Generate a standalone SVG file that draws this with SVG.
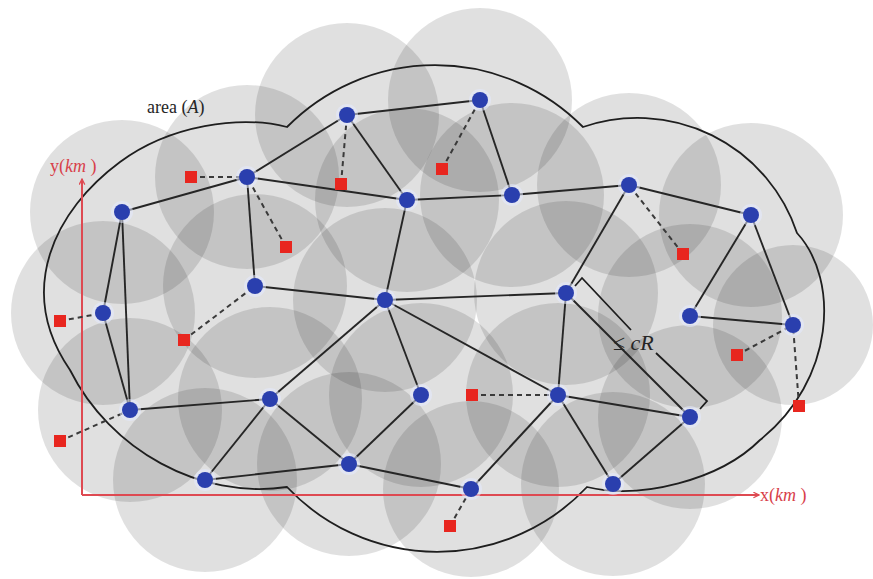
<svg xmlns="http://www.w3.org/2000/svg" width="873" height="579" viewBox="0 0 873 579">
  <defs>
    <style>
      .disk { fill: #000; fill-opacity: 0.12; }
      .outline { fill: none; stroke: #1e1e1e; stroke-width: 1.8; }
      .axis { fill: none; stroke: #de4a52; stroke-width: 2; }
      .edge { stroke: #262626; stroke-width: 1.9; fill: none; }
      .link { stroke: #3a3a3a; stroke-width: 2; stroke-dasharray: 5 4; fill: none; }
      .halo { fill: #e4eaff; fill-opacity: 0.55; }
      .node { fill: #2a3fae; }
      .target { fill: #e8261f; }
      .axlabel { font-family: "Liberation Serif", "DejaVu Serif", serif; font-size: 18px; fill: #d8404a; }
      .label { font-family: "Liberation Serif", "DejaVu Serif", serif; fill: #262626; }
      .bracket { fill: none; stroke: #1e1e1e; stroke-width: 1.8; }
    </style>
    <marker id="arrow" viewBox="0 0 10 10" refX="9" refY="5" markerWidth="7" markerHeight="7" orient="auto" markerUnits="userSpaceOnUse">
      <path d="M1,1 L9,5 L1,9" fill="none" stroke="#de4a52" stroke-width="1.8"/>
    </marker>
  </defs>

  <rect width="873" height="579" fill="#ffffff"/>

  <!-- coverage disks around each sensor -->
  <g id="coverage">
    <circle class="disk" cx="122" cy="212" r="92"/>
    <circle class="disk" cx="247" cy="177" r="92"/>
    <circle class="disk" cx="347" cy="115" r="92"/>
    <circle class="disk" cx="480" cy="100" r="92"/>
    <circle class="disk" cx="407" cy="200" r="92"/>
    <circle class="disk" cx="512" cy="195" r="92"/>
    <circle class="disk" cx="629" cy="185" r="92"/>
    <circle class="disk" cx="751" cy="215" r="92"/>
    <circle class="disk" cx="103" cy="313" r="92"/>
    <circle class="disk" cx="255" cy="286" r="92"/>
    <circle class="disk" cx="385" cy="300" r="92"/>
    <circle class="disk" cx="566" cy="293" r="92"/>
    <circle class="disk" cx="690" cy="316" r="92"/>
    <circle class="disk" cx="793" cy="325" r="80"/>
    <circle class="disk" cx="130" cy="410" r="92"/>
    <circle class="disk" cx="270" cy="399" r="92"/>
    <circle class="disk" cx="421" cy="395" r="92"/>
    <circle class="disk" cx="558" cy="395" r="92"/>
    <circle class="disk" cx="690" cy="417" r="92"/>
    <circle class="disk" cx="205" cy="480" r="92"/>
    <circle class="disk" cx="349" cy="464" r="92"/>
    <circle class="disk" cx="471" cy="489" r="88"/>
    <circle class="disk" cx="613" cy="484" r="92"/>
  </g>

  <!-- boundary of the monitored area -->
  <path id="area" class="outline" d="M287,127 A208,208 0 0 1 583,127 A168,168 0 0 1 797,233 C840,280 835,380 760,440 C720,480 640,500 587,487 A206,206 0 0 1 287,487 C200,500 110,450 70,370 C15,290 55,210 120,162 C170,125 240,115 287,127 Z"/>

  <!-- coordinate axes -->
  <g id="axes">
    <path class="axis" d="M82,495 L82,179" marker-end="url(#arrow)"/>
    <path class="axis" d="M82,495 L759,495" marker-end="url(#arrow)"/>
    <text class="axlabel" x="50" y="172">y(<tspan font-style="italic">km</tspan> )</text>
    <text class="axlabel" x="760" y="501">x(<tspan font-style="italic">km</tspan> )</text>
  </g>

  <!-- connectors -->
  <g id="connectors">
    <g id="edges">
      <line class="edge" x1="122" y1="212" x2="247" y2="177"/>
      <line class="edge" x1="247" y1="177" x2="347" y2="115"/>
      <line class="edge" x1="347" y1="115" x2="480" y2="100"/>
      <line class="edge" x1="347" y1="115" x2="407" y2="200"/>
      <line class="edge" x1="480" y1="100" x2="512" y2="195"/>
      <line class="edge" x1="247" y1="177" x2="407" y2="200"/>
      <line class="edge" x1="247" y1="177" x2="255" y2="286"/>
      <line class="edge" x1="407" y1="200" x2="512" y2="195"/>
      <line class="edge" x1="512" y1="195" x2="629" y2="185"/>
      <line class="edge" x1="629" y1="185" x2="751" y2="215"/>
      <line class="edge" x1="122" y1="212" x2="103" y2="313"/>
      <line class="edge" x1="122" y1="212" x2="130" y2="410"/>
      <line class="edge" x1="103" y1="313" x2="130" y2="410"/>
      <line class="edge" x1="255" y1="286" x2="385" y2="300"/>
      <line class="edge" x1="407" y1="200" x2="385" y2="300"/>
      <line class="edge" x1="385" y1="300" x2="566" y2="293"/>
      <line class="edge" x1="629" y1="185" x2="566" y2="293"/>
      <line class="edge" x1="751" y1="215" x2="690" y2="316"/>
      <line class="edge" x1="751" y1="215" x2="793" y2="325"/>
      <line class="edge" x1="690" y1="316" x2="793" y2="325"/>
      <line class="edge" x1="566" y1="293" x2="558" y2="395"/>
      <line class="edge" x1="566" y1="293" x2="690" y2="417"/>
      <line class="edge" x1="385" y1="300" x2="270" y2="399"/>
      <line class="edge" x1="385" y1="300" x2="421" y2="395"/>
      <line class="edge" x1="385" y1="300" x2="558" y2="395"/>
      <line class="edge" x1="130" y1="410" x2="270" y2="399"/>
      <line class="edge" x1="270" y1="399" x2="205" y2="480"/>
      <line class="edge" x1="270" y1="399" x2="349" y2="464"/>
      <line class="edge" x1="205" y1="480" x2="349" y2="464"/>
      <line class="edge" x1="421" y1="395" x2="349" y2="464"/>
      <line class="edge" x1="349" y1="464" x2="471" y2="489"/>
      <line class="edge" x1="471" y1="489" x2="558" y2="395"/>
      <line class="edge" x1="558" y1="395" x2="613" y2="484"/>
      <line class="edge" x1="558" y1="395" x2="690" y2="417"/>
      <line class="edge" x1="690" y1="417" x2="613" y2="484"/>
    </g>
    <g id="links">
      <line class="link" x1="191" y1="177" x2="247" y2="177"/>
      <line class="link" x1="286" y1="247" x2="247" y2="177"/>
      <line class="link" x1="341" y1="184" x2="347" y2="115"/>
      <line class="link" x1="442" y1="169" x2="480" y2="100"/>
      <line class="link" x1="683" y1="254" x2="629" y2="185"/>
      <line class="link" x1="60" y1="321" x2="103" y2="313"/>
      <line class="link" x1="184" y1="340" x2="255" y2="286"/>
      <line class="link" x1="737" y1="355" x2="793" y2="325"/>
      <line class="link" x1="472" y1="395" x2="558" y2="395"/>
      <line class="link" x1="799" y1="406" x2="793" y2="325"/>
      <line class="link" x1="60" y1="441" x2="130" y2="410"/>
      <line class="link" x1="450" y1="526" x2="471" y2="489"/>
    </g>
    <!-- distance bracket along one edge -->
    <path id="range" class="bracket" d="M575,286 L582,278 L631,330 M656,353 L707,401 L700,409"/>
  </g>

  <!-- sensor nodes -->
  <g id="n1"><circle class="halo" cx="122" cy="212" r="11"/><circle class="node" cx="122" cy="212" r="8"/></g>
  <g id="n2"><circle class="halo" cx="247" cy="177" r="11"/><circle class="node" cx="247" cy="177" r="8"/></g>
  <g id="n3"><circle class="halo" cx="347" cy="115" r="11"/><circle class="node" cx="347" cy="115" r="8"/></g>
  <g id="n4"><circle class="halo" cx="480" cy="100" r="11"/><circle class="node" cx="480" cy="100" r="8"/></g>
  <g id="n5"><circle class="halo" cx="407" cy="200" r="11"/><circle class="node" cx="407" cy="200" r="8"/></g>
  <g id="n6"><circle class="halo" cx="512" cy="195" r="11"/><circle class="node" cx="512" cy="195" r="8"/></g>
  <g id="n7"><circle class="halo" cx="629" cy="185" r="11"/><circle class="node" cx="629" cy="185" r="8"/></g>
  <g id="n8"><circle class="halo" cx="751" cy="215" r="11"/><circle class="node" cx="751" cy="215" r="8"/></g>
  <g id="n9"><circle class="halo" cx="103" cy="313" r="11"/><circle class="node" cx="103" cy="313" r="8"/></g>
  <g id="n10"><circle class="halo" cx="255" cy="286" r="11"/><circle class="node" cx="255" cy="286" r="8"/></g>
  <g id="n11"><circle class="halo" cx="385" cy="300" r="11"/><circle class="node" cx="385" cy="300" r="8"/></g>
  <g id="n12"><circle class="halo" cx="566" cy="293" r="11"/><circle class="node" cx="566" cy="293" r="8"/></g>
  <g id="n13"><circle class="halo" cx="690" cy="316" r="11"/><circle class="node" cx="690" cy="316" r="8"/></g>
  <g id="n14"><circle class="halo" cx="793" cy="325" r="11"/><circle class="node" cx="793" cy="325" r="8"/></g>
  <g id="n15"><circle class="halo" cx="130" cy="410" r="11"/><circle class="node" cx="130" cy="410" r="8"/></g>
  <g id="n16"><circle class="halo" cx="270" cy="399" r="11"/><circle class="node" cx="270" cy="399" r="8"/></g>
  <g id="n17"><circle class="halo" cx="421" cy="395" r="11"/><circle class="node" cx="421" cy="395" r="8"/></g>
  <g id="n18"><circle class="halo" cx="558" cy="395" r="11"/><circle class="node" cx="558" cy="395" r="8"/></g>
  <g id="n19"><circle class="halo" cx="690" cy="417" r="11"/><circle class="node" cx="690" cy="417" r="8"/></g>
  <g id="n20"><circle class="halo" cx="205" cy="480" r="11"/><circle class="node" cx="205" cy="480" r="8"/></g>
  <g id="n21"><circle class="halo" cx="349" cy="464" r="11"/><circle class="node" cx="349" cy="464" r="8"/></g>
  <g id="n22"><circle class="halo" cx="471" cy="489" r="11"/><circle class="node" cx="471" cy="489" r="8"/></g>
  <g id="n23"><circle class="halo" cx="613" cy="484" r="11"/><circle class="node" cx="613" cy="484" r="8"/></g>

  <!-- targets -->
  <g id="t1"><rect class="target" x="185" y="171" width="12" height="12"/></g>
  <g id="t2"><rect class="target" x="280" y="241" width="12" height="12"/></g>
  <g id="t3"><rect class="target" x="335" y="178" width="12" height="12"/></g>
  <g id="t4"><rect class="target" x="436" y="163" width="12" height="12"/></g>
  <g id="t5"><rect class="target" x="677" y="248" width="12" height="12"/></g>
  <g id="t6"><rect class="target" x="54" y="315" width="12" height="12"/></g>
  <g id="t7"><rect class="target" x="178" y="334" width="12" height="12"/></g>
  <g id="t8"><rect class="target" x="731" y="349" width="12" height="12"/></g>
  <g id="t9"><rect class="target" x="466" y="389" width="12" height="12"/></g>
  <g id="t10"><rect class="target" x="793" y="400" width="12" height="12"/></g>
  <g id="t11"><rect class="target" x="54" y="435" width="12" height="12"/></g>
  <g id="t12"><rect class="target" x="444" y="520" width="12" height="12"/></g>

  <!-- labels -->
  <text class="label" x="147" y="113" font-size="18">area  (<tspan font-style="italic">A</tspan>)</text>
  <text class="label" x="613" y="350" font-size="22">≤ <tspan font-style="italic">cR</tspan></text>
</svg>
